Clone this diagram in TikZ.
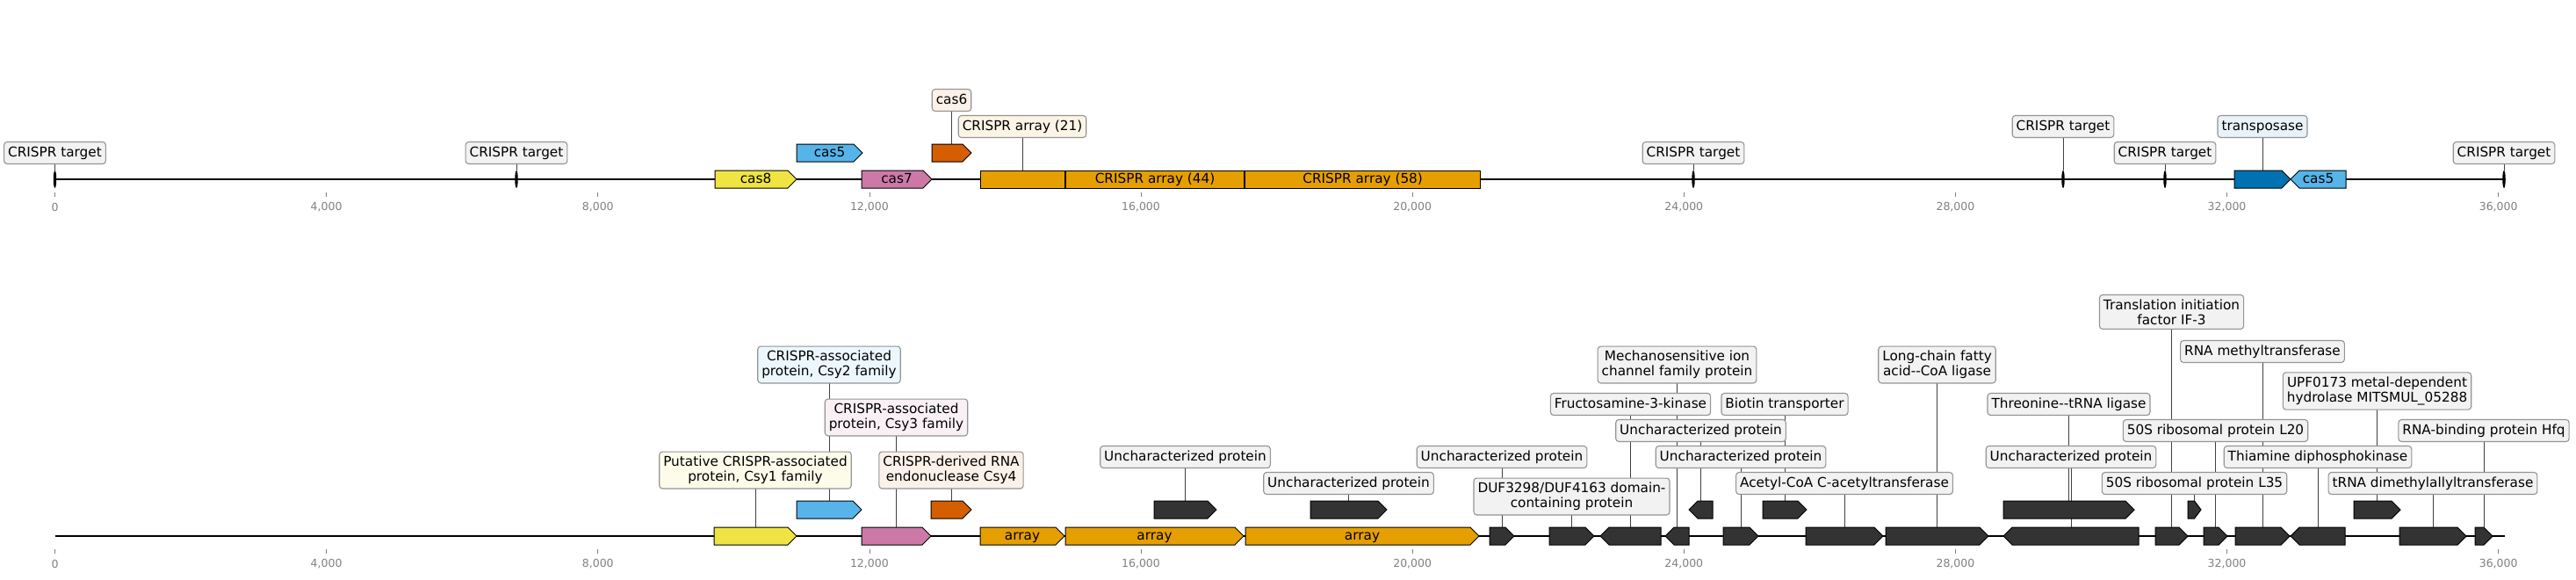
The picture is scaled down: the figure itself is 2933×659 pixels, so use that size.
\documentclass[tikz,border=0pt]{standalone}
\usepackage{fontspec}
\setmainfont{DejaVu Sans}
\usetikzlibrary{shapes.geometric}
\pgfdeclarelayer{bg}\pgfdeclarelayer{mid}
\pgfsetlayers{bg,mid,main}
\definecolor{cyel}{HTML}{F0E442}
\definecolor{csky}{HTML}{56B4E9}
\definecolor{cpink}{HTML}{CC79A7}
\definecolor{cverm}{HTML}{D55E00}
\definecolor{corg}{HTML}{E69F00}
\definecolor{cblue}{HTML}{0072B2}
\definecolor{cdark}{HTML}{333333}
\newcommand{\labfont}{\fontsize{15.28}{17.3}\selectfont}
\newcommand{\dhy}{\mbox{-}\mbox{-}}
\newcommand{\gfwd}[6]{%
  \pgfmathsetmacro{\gw}{(#3)-(#2)}\pgfmathsetmacro{\gx}{((#3)+(#2))/2}\pgfmathsetmacro{\gh}{min(10,\gw/2)}%
  \node[gbox,minimum width=\gw pt] (#1) at (\gx,#4) {#6};%
  \begin{pgfonlayer}{mid}\filldraw[feat,fill=#5] (#1.south west) -- ([xshift=-\gh pt]#1.south east) -- (#1.east) -- ([xshift=-\gh pt]#1.north east) -- (#1.north west) -- cycle;\end{pgfonlayer}}
\newcommand{\grev}[6]{%
  \pgfmathsetmacro{\gw}{(#3)-(#2)}\pgfmathsetmacro{\gx}{((#3)+(#2))/2}\pgfmathsetmacro{\gh}{min(10,\gw/2)}%
  \node[gbox,minimum width=\gw pt] (#1) at (\gx,#4) {#6};%
  \begin{pgfonlayer}{mid}\filldraw[feat,fill=#5] (#1.south east) -- ([xshift=\gh pt]#1.south west) -- (#1.west) -- ([xshift=\gh pt]#1.north west) -- (#1.north east) -- cycle;\end{pgfonlayer}}
\newcommand{\grect}[6]{%
  \pgfmathsetmacro{\gw}{(#3)-(#2)}\pgfmathsetmacro{\gx}{((#3)+(#2))/2}%
  \node[gbox,minimum width=\gw pt] (#1) at (\gx,#4) {#6};%
  \begin{pgfonlayer}{mid}\filldraw[feat,fill=#5] (#1.south west) rectangle (#1.north east);\end{pgfonlayer}}
\newcommand{\conn}[2]{\begin{pgfonlayer}{bg}\draw[cline] (#1.south) -- (#1.south |- #2.north);\end{pgfonlayer}}
\begin{document}
\begin{tikzpicture}[x=1pt,y=-1pt,
  gbox/.style={inner sep=0pt,outer sep=0pt,minimum height=20pt,text height=11.6pt,text depth=3.6pt,font=\labfont},
  feat/.style={draw=black,line width=1pt,line join=miter},
  lab/.style={draw=black!42,line width=1.1pt,rounded corners=3.5pt,fill=black!5,inner xsep=4.5pt,inner ysep=4.9pt,align=center,font=\labfont,outer sep=0pt},
  one/.style={text height=11.6pt,text depth=3.6pt},
  cline/.style={draw=black!75,line width=0.8pt},
  bline/.style={draw=black,line width=2pt},
  tgt/.style={ellipse,fill=black,minimum width=3.5pt,minimum height=20pt,inner sep=0pt,outer sep=0pt},
  tick/.style={draw=black!50,line width=0.8pt},
  ticklab/.style={text=black!50,font=\fontsize{12.5}{14}\selectfont,inner sep=0pt}]
\useasboundingbox (0,0) rectangle (2933,659);
% ---------- axes ----------
\foreach \i/\t in {0/0,1/{4,000},2/{8,000},3/{12,000},4/{16,000},5/{20,000},6/{24,000},7/{28,000},8/{32,000},9/{36,000}}{
  \pgfmathsetmacro{\xx}{62.5+309.13*\i}
  \draw[tick] (\xx,219) -- (\xx,224);
  \node[ticklab] (ta\i) at (\xx,236) {\t};
  \draw[tick] (\xx,625) -- (\xx,630);
  \node[ticklab] (tb\i) at (\xx,642) {\t};
}
% ---------- top panel ----------
\coordinate (ts) at (62.5,204); \coordinate (te) at (2851,204);
\begin{pgfonlayer}{bg}\draw[bline] (ts) -- (te);\end{pgfonlayer}
\node[tgt] (m1) at (62.5,204) {};
\node[tgt] (m2) at (588,204) {};
\node[tgt] (m3) at (1928,204) {};
\node[tgt] (m4) at (2349,204) {};
\node[tgt] (m5) at (2465,204) {};
\node[tgt] (m6) at (2851,204) {};
\gfwd{cas8}{814}{907}{204}{cyel}{cas8}
\gfwd{cas5a}{907}{982}{174}{csky}{cas5}
\gfwd{cas7}{981}{1061}{204}{cpink}{cas7}
\gfwd{cas6}{1061}{1106}{174}{cverm}{}
\grect{arA}{1116}{1212}{204}{corg}{}
\grect{arB}{1213.6}{1416.5}{204}{corg}{CRISPR array (44)}
\grect{arC}{1417.7}{1685.6}{204}{corg}{CRISPR array (58)}
\gfwd{tnp}{2544}{2608}{204}{cblue}{}
\grev{cas5b}{2608}{2671}{204}{csky}{cas5}
\node[lab,one] (lm1) at (62.5,174) {CRISPR target};
\node[lab,one] (lm2) at (588,174) {CRISPR target};
\node[lab,one] (lm3) at (1928,174) {CRISPR target};
\node[lab,one] (lm4) at (2349,144) {CRISPR target};
\node[lab,one] (lm5) at (2465,174) {CRISPR target};
\node[lab,one] (lm6) at (2851,174) {CRISPR target};
\node[lab,one,fill=cverm!9] (lcas6) at (1083.5,114) {cas6};
\node[lab,one,fill=corg!10] (lar) at (1164,144) {CRISPR array (21)};
\node[lab,one,fill=cblue!9] (ltnp) at (2576,144) {transposase};
\conn{lm1}{m1}\conn{lm2}{m2}\conn{lm3}{m3}\conn{lm4}{m4}\conn{lm5}{m5}\conn{lm6}{m6}
\conn{lcas6}{cas6}\conn{lar}{arA}\conn{ltnp}{tnp}
% ---------- bottom panel ----------
\coordinate (bs) at (62.5,610); \coordinate (be) at (2851.6,610);
\begin{pgfonlayer}{bg}\draw[bline] (bs) -- (be);\end{pgfonlayer}
\gfwd{csy1}{813}{907}{610}{cyel}{}
\gfwd{csy2}{907}{981}{580}{csky}{}
\gfwd{csy3}{981}{1060}{610}{cpink}{}
\gfwd{csy4}{1060}{1106}{580}{cverm}{}
\gfwd{ba}{1116}{1212}{610}{corg}{array}
\gfwd{bb}{1213}{1416}{610}{corg}{array}
\gfwd{bc}{1418}{1684}{610}{corg}{array}
\gfwd{gu1}{1314}{1385}{580}{cdark}{}
\gfwd{gu2}{1492}{1579}{580}{cdark}{}
\gfwd{ga}{1696}{1724}{610}{cdark}{}
\gfwd{gb}{1764}{1815}{610}{cdark}{}
\grev{gc}{1822}{1891}{610}{cdark}{}
\grev{gd}{1896}{1923}{610}{cdark}{}
\grev{ge}{1923}{1950}{580}{cdark}{}
\gfwd{gf}{1962}{2002}{610}{cdark}{}
\gfwd{gg}{2007}{2057}{580}{cdark}{}
\gfwd{gh}{2056}{2144}{610}{cdark}{}
\gfwd{gi}{2147}{2264}{610}{cdark}{}
\gfwd{gk}{2281}{2430}{580}{cdark}{}
\grev{gj}{2281}{2435}{610}{cdark}{}
\gfwd{gl}{2454}{2491}{610}{cdark}{}
\gfwd{gm}{2491}{2506}{580}{cdark}{}
\gfwd{gn}{2509}{2536}{610}{cdark}{}
\gfwd{go}{2545}{2607}{610}{cdark}{}
\grev{gp}{2608}{2670}{610}{cdark}{}
\gfwd{gq}{2680}{2733}{580}{cdark}{}
\gfwd{gr}{2732}{2808}{610}{cdark}{}
\gfwd{gs}{2818}{2838}{610}{cdark}{}
\node[lab,fill=cyel!11] (lcsy1) at (860,535) {Putative CRISPR-associated\\protein, Csy1 family};
\node[lab,fill=csky!11] (lcsy2) at (944,415) {CRISPR-associated\\protein, Csy2 family};
\node[lab,fill=cpink!11] (lcsy3) at (1020.5,475) {CRISPR-associated\\protein, Csy3 family};
\node[lab,fill=cverm!9] (lcsy4) at (1083,535) {CRISPR-derived RNA\\endonuclease Csy4};
\node[lab,one] (lu1) at (1349.5,520) {Uncharacterized protein};
\node[lab,one] (lu2) at (1535.5,550) {Uncharacterized protein};
\node[lab,one] (lga) at (1710,520) {Uncharacterized protein};
\node[lab] (lgb) at (1789.5,565) {DUF3298/DUF4163 domain-\\containing protein};
\node[lab,one] (lgc) at (1856.5,460) {Fructosamine-3-kinase};
\node[lab] (lgd) at (1909.5,415) {Mechanosensitive ion\\channel family protein};
\node[lab,one] (lge) at (1936.5,490) {Uncharacterized protein};
\node[lab,one] (lgf) at (1982,520) {Uncharacterized protein};
\node[lab,one] (lgg) at (2032,460) {Biotin transporter};
\node[lab,one] (lgh) at (2100,550) {Acetyl-CoA C-acetyltransferase};
\node[lab] (lgi) at (2205.5,415) {Long-chain fatty\\acid\dhy CoA ligase};
\node[lab,one] (lgk) at (2355.5,460) {Threonine\dhy tRNA ligase};
\node[lab,one] (lgj) at (2358,520) {Uncharacterized protein};
\node[lab] (lgl) at (2472.5,355) {Translation initiation\\factor IF-3};
\node[lab,one] (lgm) at (2498.5,550) {50S ribosomal protein L35};
\node[lab,one] (lgn) at (2522.5,490) {50S ribosomal protein L20};
\node[lab,one] (lgo) at (2576,400) {RNA methyltransferase};
\node[lab,one] (lgp) at (2639,520) {Thiamine diphosphokinase};
\node[lab] (lgq) at (2706.5,445) {UPF0173 metal-dependent\\hydrolase MITSMUL\_05288};
\node[lab,one] (lgr) at (2770,550) {tRNA dimethylallyltransferase};
\node[lab,one] (lgs) at (2828,490) {RNA-binding protein Hfq};
\conn{lcsy1}{csy1}\conn{lcsy2}{csy2}\conn{lcsy3}{csy3}\conn{lcsy4}{csy4}
\conn{lu1}{gu1}\conn{lu2}{gu2}\conn{lga}{ga}\conn{lgb}{gb}\conn{lgc}{gc}\conn{lgd}{gd}
\conn{lge}{ge}\conn{lgf}{gf}\conn{lgg}{gg}\conn{lgh}{gh}\conn{lgi}{gi}\conn{lgk}{gk}
\conn{lgj}{gj}\conn{lgl}{gl}\conn{lgm}{gm}\conn{lgn}{gn}\conn{lgo}{go}\conn{lgp}{gp}
\conn{lgq}{gq}\conn{lgr}{gr}\conn{lgs}{gs}
\end{tikzpicture}
\end{document}
